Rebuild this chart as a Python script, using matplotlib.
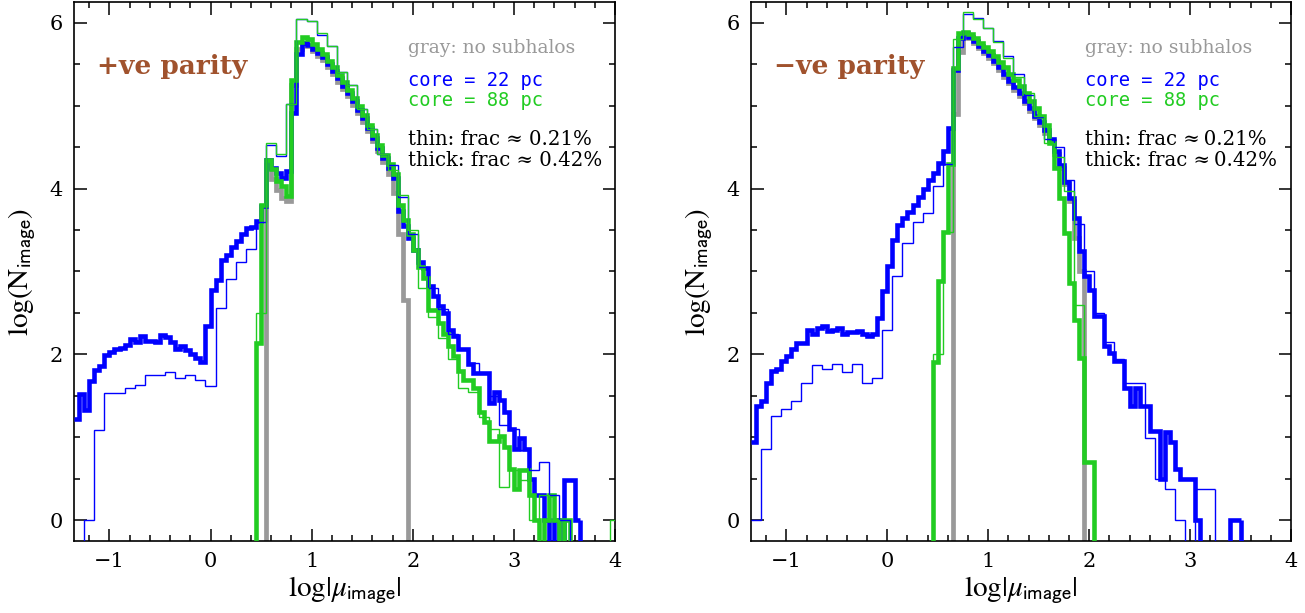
import numpy as np
import matplotlib
matplotlib.use('agg')
import matplotlib.pyplot as plt
from matplotlib.ticker import MultipleLocator

plt.rcParams['mathtext.fontset'] = 'stix'

# bin widths
W_THICK = 0.05
W_THIN = 0.1
EMPTY = -5.0   # empty bin, log(0) -> drawn below the axis
XMIN, XMAX = -1.35, 4.0

# ---------------- +ve parity ----------------
pos_thick_blue_x0 = -1.35
pos_thick_blue = [
    1.22, 1.52, 1.33, 1.68, 1.81, 1.86, 1.99, 2.03, 2.06, 2.08,
    2.11, 2.18, 2.15, 2.22, 2.16, 2.16, 2.15, 2.23, 2.21, 2.15,
    2.07, 2.10, 2.05, 2.01, 1.96, 1.91, 2.34, 2.78, 2.90, 3.14,
    3.20, 3.30, 3.37, 3.45, 3.52, 3.54, 3.61, 3.79, 4.35, 4.25,
    4.19, 4.13, 4.21, 4.91, 5.62, 5.75, 5.73, 5.68, 5.63, 5.59,
    5.50, 5.42, 5.33, 5.24, 5.15, 5.05, 4.95, 4.85, 4.73, 4.61,
    4.49, 4.37, 4.25, 4.13, 3.73, 3.55, 3.40, 3.26, 3.12, 3.04,
    2.83, 2.71, 2.58, 2.50, 2.30, 2.22, 2.07, 2.07, 1.88, 1.77,
    1.77, 1.77, 1.41, 1.55, 1.45, 1.30, 1.10, 0.86, 0.99, 0.86,
    0.50, 0.30, 0.30, 0.00, EMPTY, 0.00, EMPTY, 0.48, 0.48, 0.00,
]
pos_thick_green_x0 = 0.45
pos_thick_green = [
    2.14, 3.80, 4.34, 4.23, 4.09, 4.03, 3.91, 5.31, 5.77, 5.83,
    5.80, 5.74, 5.68, 5.62, 5.54, 5.46, 5.37, 5.28, 5.19, 5.09,
    4.99, 4.89, 4.77, 4.65, 4.53, 4.41, 4.29, 4.17, 3.80, 3.62,
    3.45, 3.26, 3.05, 2.92, 2.54, 2.54, 2.38, 2.24, 2.10, 1.98,
    1.80, 1.69, 1.69, 1.60, 1.30, 1.18, 0.96, 0.96, 1.02, 0.88,
    0.62, 0.38, 0.60, 0.60, 0.30, 0.00, EMPTY, 0.00, 0.30, 0.00,
    EMPTY, 0.00,
]
pos_gray_x0 = 0.55
pos_gray = [
    4.28, 4.12, 3.98, 3.88, 3.85, 5.25, 5.68, 5.76, 5.72, 5.66,
    5.60, 5.55, 5.47, 5.38, 5.29, 5.20, 5.11, 5.01, 4.91, 4.80,
    4.69, 4.57, 4.45, 4.32, 4.18, 3.95, 3.45, 2.66,
]
pos_thin_blue_x0 = -1.25
pos_thin_blue = [
    0.00, 1.09, 1.53, 1.53, 1.59, 1.63, 1.75, 1.75, 1.79, 1.71,
    1.75, 1.69, 1.62, 2.56, 2.91, 3.11, 3.27, 3.60, 4.53, 4.39,
    5.02, 6.04, 6.02, 5.85, 5.72, 5.40, 5.25, 4.96, 4.72, 4.42,
    4.28, 3.90, 3.45, 3.05, 2.80, 2.55, 2.25, 2.06, 1.90, 1.77,
    1.50, 1.15, 1.10, 0.85, 0.60, 0.70, 0.30, 0.00,
]
pos_thin_green_x0 = 0.45
pos_thin_green = [
    2.50, 4.55, 4.42, 5.02, 6.05, 6.02, 5.87, 5.72, 5.40, 5.25,
    4.96, 4.72, 4.42, 4.22, 3.92, 3.50, 2.80, 2.45, 2.20, 1.95,
    1.60, 1.55, 1.25, 1.10, 0.40, 0.60, 0.48, 0.00, 0.30, 0.00,
    EMPTY, EMPTY, EMPTY, EMPTY, EMPTY, 0.00,
]

# ---------------- -ve parity ----------------
neg_thick_blue_x0 = -1.35
neg_thick_blue = [
    0.94, 1.38, 1.44, 1.66, 1.80, 1.82, 1.92, 1.98, 2.06, 2.14,
    2.14, 2.30, 2.24, 2.32, 2.34, 2.28, 2.30, 2.32, 2.24, 2.27,
    2.27, 2.28, 2.24, 2.22, 2.24, 2.44, 2.76, 3.06, 3.38, 3.56,
    3.64, 3.72, 3.80, 3.90, 4.00, 4.10, 4.19, 4.31, 4.45, 4.73,
    5.43, 5.81, 5.87, 5.83, 5.78, 5.72, 5.66, 5.61, 5.54, 5.46,
    5.38, 5.30, 5.22, 5.15, 5.06, 4.97, 4.88, 4.80, 4.70, 4.60,
    4.45, 4.28, 4.08, 3.88, 3.65, 3.25, 2.95, 2.78, 2.46, 2.46,
    2.10, 2.02, 1.92, 1.92, 1.60, 1.38, 1.60, 1.38, 1.38, 1.08,
    1.08, 0.50, 1.06, 0.94, 0.62, 0.50, 0.50, 0.50, 0.00, EMPTY,
    EMPTY, EMPTY, EMPTY, EMPTY, EMPTY, 0.00, 0.00,
]
neg_thick_green_x0 = 0.45
neg_thick_green = [
    1.91, 2.88, 3.47, 4.29, 5.45, 5.87, 5.89, 5.86, 5.82, 5.76,
    5.71, 5.66, 5.60, 5.53, 5.46, 5.38, 5.31, 5.24, 5.15, 5.06,
    4.97, 4.88, 4.77, 4.55, 4.25, 3.89, 3.46, 2.86, 2.42, 1.96,
    0.70, 0.70,
]
neg_gray_x0 = 0.65
neg_gray = [
    4.90, 5.65, 5.84, 5.81, 5.75, 5.69, 5.63, 5.58, 5.51, 5.43,
    5.35, 5.27, 5.19, 5.12, 5.03, 4.94, 4.85, 4.77, 4.67, 4.57,
    4.42, 4.25, 4.05, 3.85, 3.40, 3.00,
]
neg_thin_blue_x0 = -1.35
neg_thin_blue = [
    0.00, 0.86, 1.26, 1.34, 1.44, 1.66, 1.87, 1.82, 1.88, 1.79,
    1.89, 1.65, 1.72, 2.30, 2.94, 3.34, 3.60, 3.70, 4.03, 4.29,
    5.71, 6.11, 6.06, 5.94, 5.78, 5.60, 5.38, 5.13, 4.86, 4.60,
    4.50, 4.10, 3.57, 3.00, 2.50, 2.15, 1.95, 1.66, 1.66, 0.99,
    0.50, 0.38, 0.00, EMPTY, 0.38, 0.38,
]
neg_thin_green_x0 = 0.45
neg_thin_green = [
    2.00, 3.48, 5.80, 6.13, 6.05, 5.93, 5.77, 5.58, 5.35, 5.15,
    4.88, 4.55, 4.38, 3.97, 2.60, 0.70,
]

BLUE = '#0000ff'
GREEN = '#22cc22'
GRAY = '#999999'
BROWN = '#a0522d'


def edges_for(x0, vals, width):
    return x0 + width * np.arange(len(vals) + 1)


def draw_hist(ax, x0, vals, width, color, lw, z):
    vals = np.asarray(vals, dtype=float)
    edges = edges_for(x0, vals, width)
    if x0 <= XMIN:
        # starts at the left frame: no drop line along the spine
        ax.stairs(vals, edges, baseline=None, color=color, lw=lw, zorder=z)
        ax.plot([edges[-1], edges[-1]], [vals[-1], EMPTY], color=color,
                lw=lw, zorder=z, solid_capstyle='butt')
    else:
        ax.stairs(vals, edges, baseline=EMPTY, fill=False,
                  color=color, lw=lw, zorder=z)


def style_axis(ax):
    ax.set_xlim(XMIN, XMAX)
    ax.set_ylim(-0.25, 6.25)
    ax.xaxis.set_major_locator(MultipleLocator(1))
    ax.xaxis.set_minor_locator(MultipleLocator(0.2))
    ax.yaxis.set_major_locator(MultipleLocator(2))
    ax.yaxis.set_minor_locator(MultipleLocator(0.5))
    ax.tick_params(which='both', direction='in', top=True, right=True,
                   width=1.1, labelsize=15, pad=8)
    ax.tick_params(which='major', length=9)
    ax.tick_params(which='minor', length=4.5)
    for lab in ax.get_xticklabels() + ax.get_yticklabels():
        lab.set_family('DejaVu Serif')
    for s in ax.spines.values():
        s.set_linewidth(1.2)
    ax.set_xlabel(r'$\mathrm{log}|\mu_{\mathrm{\mathsf{image}}}|$', fontsize=21, labelpad=2)
    ax.set_ylabel(r'$\mathrm{log(N_{\mathsf{image}})}$', fontsize=21, labelpad=8)


fig = plt.figure(figsize=(13.05, 6.13), dpi=100)
ax1 = fig.add_axes([0.0567, 0.1175, 0.4146, 0.8793])
ax2 = fig.add_axes([0.5755, 0.1175, 0.4138, 0.8793])

panels = [
    (ax1, '+ve parity', 'frac \u2248 ',
     (pos_gray_x0, pos_gray), (pos_thick_blue_x0, pos_thick_blue),
     (pos_thick_green_x0, pos_thick_green), (pos_thin_blue_x0, pos_thin_blue),
     (pos_thin_green_x0, pos_thin_green)),
    (ax2, '\u2212ve parity', 'frac \u2248\u2009',
     (neg_gray_x0, neg_gray), (neg_thick_blue_x0, neg_thick_blue),
     (neg_thick_green_x0, neg_thick_green), (neg_thin_blue_x0, neg_thin_blue),
     (neg_thin_green_x0, neg_thin_green)),
]

for ax, title, frac, gray, tb, tg, nb, ng in panels:
    draw_hist(ax, gray[0], gray[1], W_THICK, GRAY, 3.4, 2)
    draw_hist(ax, tb[0], tb[1], W_THICK, BLUE, 3.3, 3)
    draw_hist(ax, tg[0], tg[1], W_THICK, GREEN, 3.3, 4)
    draw_hist(ax, nb[0], nb[1], W_THIN, BLUE, 1.0, 5)
    draw_hist(ax, ng[0], ng[1], W_THIN, GREEN, 1.0, 6)
    style_axis(ax)

    ax.text(-1.12, 5.38, title, color=BROWN, fontsize=19, fontweight='bold',
            family='DejaVu Serif', va='baseline')
    tx = 1.955
    ax.text(tx, 5.64, 'gray: no subhalos', color=GRAY, fontsize=13.5,
            family='DejaVu Serif', va='baseline')
    ax.text(tx, 5.24, 'core = 22 pc', color=BLUE, fontsize=13.5,
            family='DejaVu Sans Mono', va='baseline')
    ax.text(tx, 4.99, 'core = 88 pc', color=GREEN, fontsize=13.5,
            family='DejaVu Sans Mono', va='baseline')
    ax.text(tx, 4.52, 'thin: ' + frac + '0.21%', color='black', fontsize=14.2,
            family='DejaVu Serif', va='baseline')
    ax.text(tx, 4.27, 'thick: ' + frac + '0.42%', color='black', fontsize=14.2,
            family='DejaVu Serif', va='baseline')

fig.savefig('out.png', dpi=100)
plt.close(fig)
